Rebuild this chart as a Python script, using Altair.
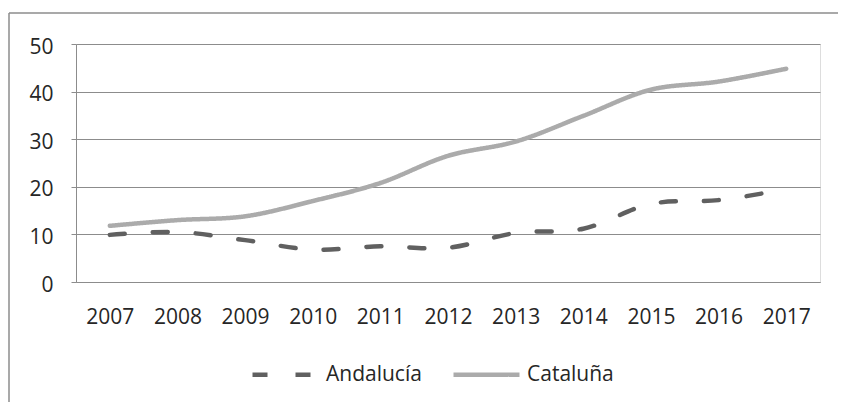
import altair as alt
import pandas as pd

years = ["2007", "2008", "2009", "2010", "2011", "2012", "2013", "2014", "2015", "2016", "2017"]
andalucia = [9.9, 10.5, 8.8, 6.8, 7.5, 7.2, 10.3, 11.2, 16.4, 17.2, 19.5]
cataluna = [11.8, 13.0, 13.8, 17.0, 20.8, 26.5, 29.5, 34.9, 40.4, 42.1, 44.8]
series = ["Andalucía", "Cataluña"]

rows = []
for y, a, c in zip(years, andalucia, cataluna):
    rows.append({"year": y, "serie": series[0], "value": a})
    rows.append({"year": y, "serie": series[1], "value": c})
df = pd.DataFrame(rows)

W, H = 744, 238
FONT = "Open Sans"
TXT = "#262626"

leg = dict(orient="none", legendX=174, legendY=295, direction="horizontal",
           symbolType="stroke", symbolSize=4356, symbolStrokeWidth=4.5,
           labelFontSize=21, labelFont=FONT, labelColor=TXT,
           columnPadding=22, labelOffset=5)

lines = alt.Chart(df).mark_line(
    strokeWidth=4.5, strokeCap="round", interpolate="catmull-rom"
).encode(
    x=alt.X("year:O", title=None, sort=years,
            axis=alt.Axis(labelAngle=0, ticks=False, grid=False, domainColor="#8c8c8c",
                          labelPadding=24, labelFontSize=21, labelFont=FONT, labelColor=TXT)),
    y=alt.Y("value:Q", title=None, scale=alt.Scale(domain=[0, 50], nice=False),
            axis=alt.Axis(values=[0, 10, 20, 30, 40, 50], grid=True, gridColor="#8c8c8c",
                          domainColor="#8c8c8c", tickColor="#8c8c8c", tickSize=5,
                          labelPadding=18, labelFontSize=21, labelFont=FONT, labelColor=TXT,
                          labelOffset=3)),
    color=alt.Color("serie:N", title=None,
                    scale=alt.Scale(domain=series, range=["#606060", "#ababab"]),
                    legend=alt.Legend(**leg)),
    strokeDash=alt.StrokeDash("serie:N", title=None,
                              scale=alt.Scale(domain=series, range=[[15, 28], [1, 0]]),
                              legend=alt.Legend(**leg)),
)

base = alt.Chart(pd.DataFrame({"k": [0]}))
top_edge = base.mark_rule(stroke="#8c8c8c", strokeWidth=1.5).encode(
    x=alt.value(-67), x2=alt.value(W + 18), y=alt.value(-31)
)
left_edge = base.mark_rule(stroke="#8c8c8c", strokeWidth=1.5).encode(
    x=alt.value(-67), y=alt.value(-31), y2=alt.value(H + 120)
)

chart = alt.layer(top_edge, left_edge, lines).properties(
    width=W, height=H,
    autosize=alt.AutoSizeParams(type="none"),
    padding={"left": 68, "top": 36, "right": 18, "bottom": 120},
).configure_view(stroke=None).configure(background="white")

chart.save("out.html", embed_options={"renderer": "svg", "actions": False})
